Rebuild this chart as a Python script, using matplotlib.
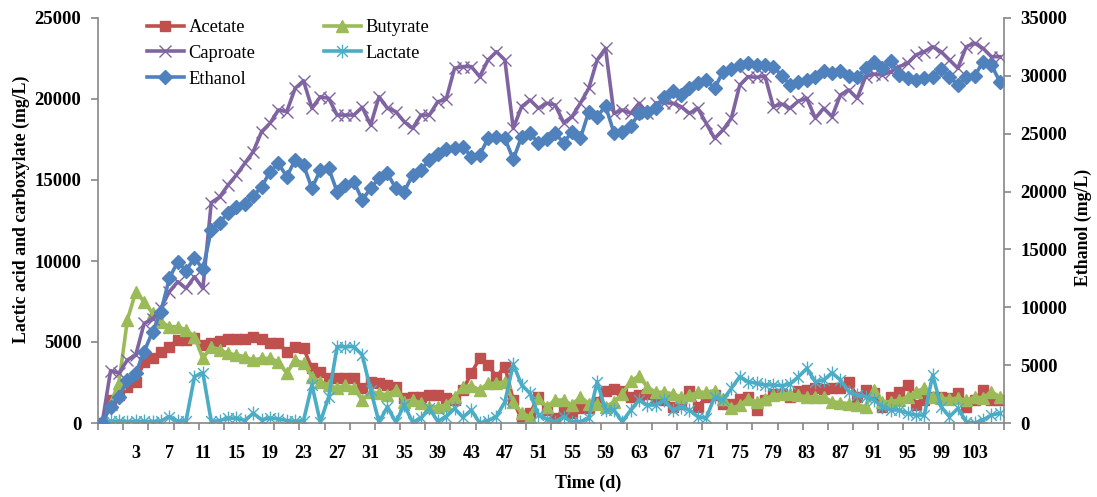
import numpy as np
import matplotlib
matplotlib.use("Agg")
import matplotlib.pyplot as plt
from matplotlib.path import Path

plt.rcParams['font.family'] = ['Liberation Serif', 'DejaVu Serif']

# Tick labels (day numbers) shown along the category axis
day_labels = [str(d) for d in range(3, 104, 4)]

# Concentrations per sample (mg/L)
acetate = [0, 1420, 1730, 2200, 2550, 3780, 3990, 4400, 4710, 5120,
           5120, 5230, 4800, 4920, 5080, 5170, 5170, 5170, 5330, 5170,
           4920, 4920, 4400, 4710, 4610, 3380, 3170, 2760, 2760, 2760,
           2760, 2140, 2550, 2450, 2350, 2240, 1520, 1620, 1620, 1730,
           1730, 1520, 1420, 2040, 3070, 4000, 3580, 2860, 3480, 1420,
           190, 600, 1620, 800, 290, 800, 600, 900, 900, 1300,
           2000, 2100, 2000, 1600, 1700, 1800, 1500, 1400, 1000, 1200,
           2000, 1000, 1600, 1700, 1200, 1200, 1500, 1600, 800, 1400,
           1800, 1800, 1600, 2000, 2040, 2140, 2100, 2140, 2140, 2550,
           1620, 2040, 1830, 1010, 1620, 1930, 2350, 1110, 1420, 1620,
           1620, 1520, 1830, 1010, 1420, 2040, 1420, 1420]

butyrate = [0, 1200, 2500, 6360, 8100, 7490, 6770, 6250, 5950, 5950,
            5740, 5330, 3990, 4710, 4510, 4300, 4200, 4090, 3890, 3990,
            3990, 3780, 3070, 3890, 3690, 2860, 2550, 2350, 2140, 2350,
            2140, 1420, 1930, 1830, 1730, 2040, 1320, 1420, 1250, 1010,
            1010, 1110, 1620, 2240, 2300, 2040, 2450, 2450, 2550, 1320,
            600, 390, 1520, 1010, 1420, 1420, 1110, 1620, 1200, 1200,
            1000, 1300, 1800, 2600, 2900, 2200, 1900, 1900, 1800, 1600,
            1700, 1900, 1900, 2000, 1500, 900, 1100, 1500, 1300, 1500,
            1700, 1800, 1800, 1700, 1620, 1620, 1600, 1320, 1250, 1200,
            1110, 1010, 2040, 1300, 1320, 1420, 1620, 1930, 2140, 1620,
            1520, 1500, 1520, 1400, 1600, 1550, 1930, 1620]

caproate = [0, 3230, 3070, 3890, 4200, 6150, 6400, 7080, 8110, 8720,
            8310, 9030, 8310, 13600, 13950, 14690, 15310, 16030, 16750, 17980,
            18500, 19320, 19220, 20660, 21130, 19430, 20140, 20040, 19010, 19010,
            19010, 19490, 18400, 20140, 19430, 19220, 18600, 18190, 19010, 19010,
            19830, 19980, 21900, 22000, 22000, 21380, 22410, 22920, 22410, 18190,
            19530, 19940, 19430, 19740, 19630, 18540, 18910, 19740, 20660, 22410,
            23130, 19120, 19320, 19120, 19740, 19120, 19740, 19770, 19740, 19530,
            19120, 19430, 18500, 17570, 18090, 18810, 20860, 21380, 21340, 21420,
            19530, 19690, 19430, 19880, 20040, 18810, 19430, 18910, 20250, 20560,
            20040, 21380, 21540, 21480, 21690, 22000, 22200, 22720, 22920, 23230,
            22920, 22410, 21900, 23230, 23440, 23130, 22610, 22610]

lactate = [0, 100, 120, 90, 110, 100, 90, 120, 400, 100,
           150, 2860, 3100, 100, 150, 300, 300, 150, 600, 200,
           300, 250, 150, 100, 150, 2350, 50, 1620, 4710, 4710,
           4710, 4200, 2040, 50, 1000, 50, 1110, 50, 300, 900,
           100, 400, 900, 350, 800, 0, 150, 400, 1300, 3620,
           2350, 1830, 490, 230, 80, 390, 80, 80, 290, 2550,
           800, 800, 80, 800, 1420, 1110, 1110, 1420, 800, 1010,
           800, 390, 290, 1620, 1420, 2140, 2860, 2550, 2450, 2350,
           2350, 2300, 2410, 2860, 3370, 2550, 2650, 3100, 2650, 1930,
           1730, 1620, 1420, 1010, 800, 800, 600, 490, 490, 2960,
           1010, 390, 900, 80, 0, 190, 490, 600]

ethanol = [0, 1410, 2250, 3720, 4320, 6160, 7890, 9620, 12500, 13940,
           13160, 14290, 13280, 16680, 17310, 18170, 18690, 18930, 19620, 20400,
           21720, 22440, 21290, 22730, 22300, 20280, 21860, 22010, 19990, 20570,
           20850, 19270, 20280, 21150, 21580, 20280, 19990, 21430, 21860, 22730,
           23250, 23680, 23740, 23880, 23010, 23160, 24600, 24740, 24600, 22790,
           24740, 25040, 24170, 24520, 25040, 24220, 25170, 24600, 26900, 26470,
           27400, 25090, 25170, 25670, 26760, 26900, 27200, 28200, 28720, 28350,
           28920, 29360, 29640, 28920, 30360, 30570, 30940, 31090, 30940, 30940,
           30790, 30030, 29210, 29470, 29640, 29880, 30450, 30270, 30450, 29990,
           29930, 30650, 31220, 30650, 31310, 30070, 29790, 29640, 29790, 29880,
           30570, 29930, 29210, 29880, 29990, 31220, 30940, 29500]

n = len(ethanol)
x = np.arange(n)

W, H = 1097, 497
fig = plt.figure(figsize=(W / 100, H / 100), dpi=100)
L, R, B, T = 98, 1004, 423, 18
ax = fig.add_axes([L / W, 1 - B / H, (R - L) / W, (B - T) / H])
ax2 = ax.twinx()

# Excel-style asterisk marker: an x crossed by a vertical bar
star = Path([(-1, -1), (1, 1), (-1, 1), (1, -1), (0, -1.3), (0, 1.3)],
            [Path.MOVETO, Path.LINETO, Path.MOVETO, Path.LINETO,
             Path.MOVETO, Path.LINETO])

c_ace, c_but, c_cap, c_lac, c_eth = '#C0504D', '#9BBB59', '#8064A2', '#4BACC6', '#4F81BD'
lw = 2.6

h_ace, = ax.plot(x, acetate, color=c_ace, lw=lw, marker='s', ms=7,
                 mec=c_ace, mfc=c_ace, label='Acetate')
h_but, = ax.plot(x, butyrate, color=c_but, lw=lw, marker='^', ms=8.5,
                 mec=c_but, mfc=c_but, label='Butyrate')
h_cap, = ax.plot(x, caproate, color=c_cap, lw=lw, marker='x', ms=8,
                 mew=1.0, mec=c_cap, label='Caproate')
h_lac, = ax.plot(x, lactate, color=c_lac, lw=lw, marker=star, ms=10,
                 mew=1.0, mec=c_lac, mfc='none', label='Lactate')
h_eth, = ax2.plot(x, ethanol, color=c_eth, lw=lw, marker='D', ms=7.5,
                  mec=c_eth, mfc=c_eth, label='Ethanol')

ax.set_xlim(-0.5, n - 0.5)
ax.set_ylim(0, 25000)
ax2.set_ylim(0, 35000)
ax.set_yticks(np.arange(0, 25001, 5000))
ax2.set_yticks(np.arange(0, 35001, 5000))

label_pos = np.arange(4, 105, 4)
ax.set_xticks(label_pos)
ax.set_xticklabels(day_labels)
ax.set_xticks(np.arange(-0.5, n, 3), minor=True)

spine_c = '#868686'
for a in (ax, ax2):
    a.spines['top'].set_visible(False)
    for s in ('left', 'right', 'bottom'):
        a.spines[s].set_color(spine_c)
        a.spines[s].set_linewidth(1.2)
ax.spines['right'].set_visible(False)
ax2.spines['left'].set_visible(False)
ax2.spines['bottom'].set_visible(False)

ax.tick_params(axis='x', which='major', length=0, pad=16, labelsize=13)
ax.tick_params(axis='x', which='minor', length=5, width=1.2, color=spine_c, direction='out')
ax.tick_params(axis='y', length=5, width=1.2, color=spine_c, direction='out', pad=7, labelsize=13.5)
ax2.tick_params(axis='y', length=5, width=1.2, color=spine_c, direction='out', pad=7, labelsize=13.5)
for lab in ax.get_xticklabels() + ax.get_yticklabels() + ax2.get_yticklabels():
    lab.set_fontweight('bold')

ax.set_xlabel('Time (d)', fontsize=13, fontweight='bold')
ax.xaxis.set_label_coords((588 - L) / (R - L), (B - 475) / (B - T))
ax.set_ylabel('Lactic acid and carboxylate (mg/L)', fontsize=12.8, fontweight='bold')
ax.yaxis.set_label_coords((30 - L) / (R - L), (B - 209) / (B - T))
ax2.set_ylabel('Ethanol (mg/L)', fontsize=12.8, fontweight='bold', rotation=90)
ax2.yaxis.set_label_coords((1075 - L) / (R - L), (B - 227) / (B - T))

handles = [h_ace, h_cap, h_eth, h_but, h_lac]
fig.legend(handles=handles, labels=[h.get_label() for h in handles],
           ncol=2, loc='upper left', bbox_to_anchor=(147 / W, 1 - 19 / H),
           frameon=False, fontsize=13.3, borderpad=0, borderaxespad=0,
           handlelength=2.0, handletextpad=0.25, columnspacing=3.7,
           labelspacing=0.48)

fig.savefig('out.png', dpi=100)
